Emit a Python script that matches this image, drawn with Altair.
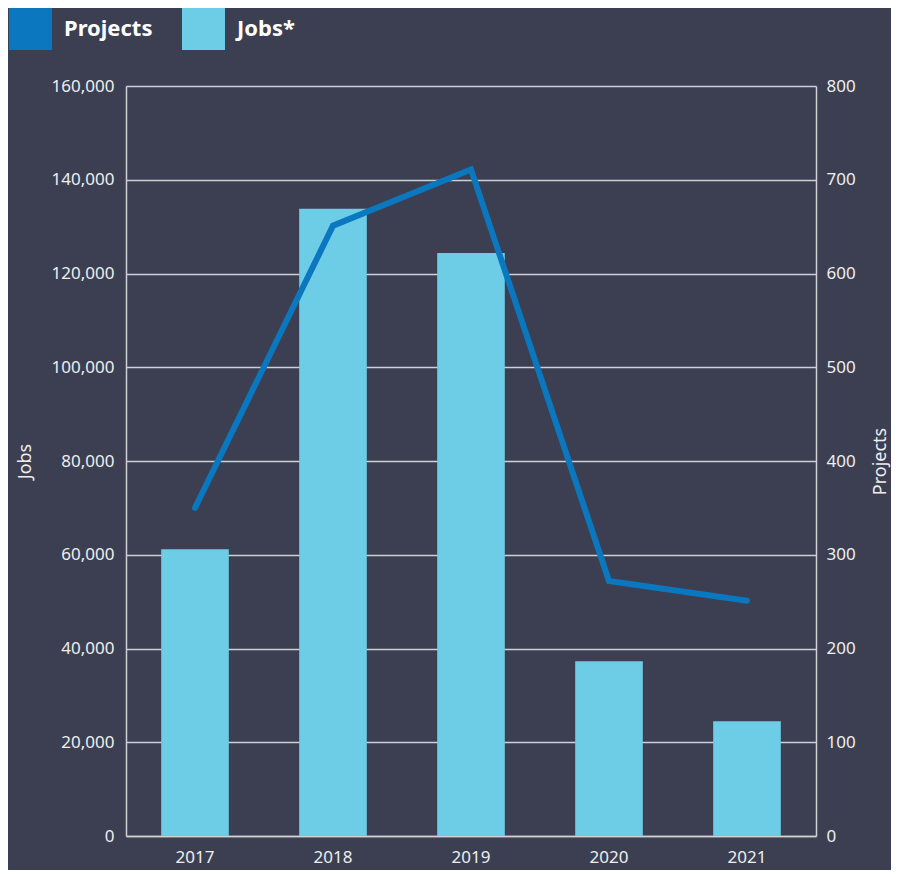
import altair as alt
import pandas as pd

years = ["2017", "2018", "2019", "2020", "2021"]
jobs = [61200, 133800, 124400, 37300, 24500]
projects = [350, 651, 711, 272, 251]

series_names = ["Projects", "Jobs*"]
series_colors = ["#0a77bf", "#6ecde6"]

BG = "#3b3f51"
AXIS_C = "#cfd0d6"
TXT = "#eeeeee"
FONT = "Noto Sans"

df = pd.DataFrame({"year": years, "jobs": jobs, "projects": projects})

base = alt.Chart(df).encode(
    x=alt.X(
        "year:N",
        title=None,
        scale=alt.Scale(paddingInner=0.51, paddingOuter=0.255),
        axis=alt.Axis(labelAngle=0, ticks=False, domain=True, domainColor=AXIS_C,
                      domainWidth=1.5, labelPadding=13, labelFontSize=17,
                      labelColor=TXT, labelFont=FONT),
    )
)

bars = base.transform_calculate(series="'Jobs*'").mark_bar().encode(
    y=alt.Y(
        "jobs:Q",
        scale=alt.Scale(domain=[0, 160000], nice=False),
        axis=alt.Axis(values=list(range(0, 160001, 20000)), format=",.0f", title="Jobs",
                      grid=True, gridColor=AXIS_C, gridWidth=1.3, ticks=False,
                      domain=True, domainColor=AXIS_C, domainWidth=1.5,
                      labelPadding=12, labelFontSize=17, labelColor=TXT, labelFont=FONT,
                      titleFontSize=18, titleFontWeight="normal", titleColor=TXT,
                      titleFont=FONT, titlePadding=17),
    ),
    color=alt.Color(
        "series:N",
        scale=alt.Scale(domain=series_names, range=series_colors),
        legend=alt.Legend(
            title=None, orient="none", legendX=-117, legendY=-79,
            direction="horizontal", symbolType="square", symbolSize=1849,
            symbolStrokeWidth=0, symbolOpacity=1, labelFontSize=22,
            labelFontWeight="bold", labelColor="white", labelFont=FONT,
            padding=0, columnPadding=29, labelOffset=12,
        ),
    ),
)

line = base.mark_line(color=series_colors[0], strokeWidth=6, strokeCap="round",
                      strokeJoin="miter").encode(
    y=alt.Y(
        "projects:Q",
        scale=alt.Scale(domain=[0, 800], nice=False),
        axis=alt.Axis(orient="right", values=list(range(0, 801, 100)), grid=False,
                      ticks=False, domain=True, domainColor=AXIS_C, domainWidth=1.5,
                      labelPadding=10, labelFontSize=17, labelColor=TXT, labelFont=FONT,
                      title="Projects", titleAngle=270, titleFontSize=18,
                      titleFontWeight="normal", titleColor=TXT, titleFont=FONT,
                      titlePadding=34),
    )
)

chart = (
    alt.layer(bars, line)
    .resolve_scale(y="independent")
    .properties(
        width=690, height=750,
        padding={"left": 118, "top": 78, "right": 75, "bottom": 34},
        autosize=alt.AutoSizeParams(type="none"),
        background=BG,
    )
    .configure_view(stroke=None)
)

chart.save("out.html", embed_options={"renderer": "svg", "actions": False})
